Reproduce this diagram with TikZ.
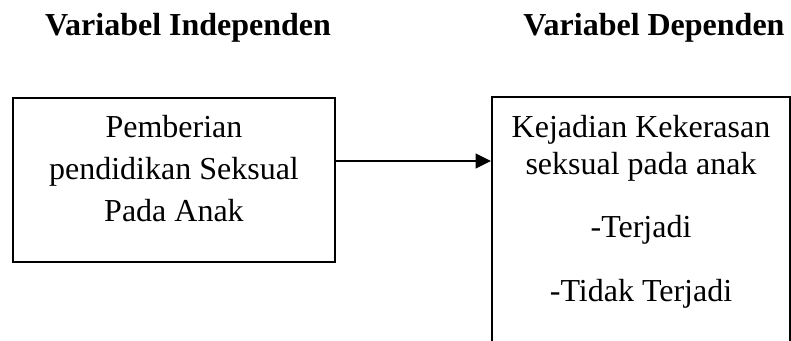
\documentclass[tikz,border=0pt]{standalone}
\usepackage{fontspec}
\setmainfont{Liberation Serif}
\usetikzlibrary{positioning,calc,arrows.meta}

\tikzset{
  box/.style={draw=black, line width=1.5pt, rectangle, inner sep=0pt},
  boxtext/.style={align=center, inner sep=0pt, font=\fontsize{24}{31.5}\selectfont},
  heading/.style={inner sep=0pt, font=\fontsize{24}{28}\selectfont\bfseries},
  link/.style={line width=1.5pt, -{Triangle[length=11.5pt,width=11pt]}}
}

\begin{document}
\begin{tikzpicture}[x=0.75pt,y=-0.75pt]
  \useasboundingbox (0,0) rectangle (791,341);

  % headings
  \node[heading, anchor=base] (head_ind) at (188,36) {Variabel Independen};
  \node[heading, anchor=base] (head_dep) at (654,36) {Variabel Dependen};

  % boxes
  \node[box, minimum width=241.5pt, minimum height=123pt] (ind) at (174,180) {};
  \node[box, minimum width=223.5pt, minimum height=212pt] (dep) at (641,238) {};

  % texts
  \node[boxtext] (ind_text) at (174,169) {Pemberian\\pendidikan Seksual\\Pada Anak};
  \node[boxtext, anchor=north, font=\fontsize{24}{27.75}\selectfont] (dep_text) at (641,115)
    {Kejadian Kekerasan\\seksual pada anak\\[19.5pt]-Terjadi\\[20pt]-Tidak Terjadi};

  % arrow
  \coordinate (ind_out) at ($(ind.east)+(0,-19)$);
  \draw[link] (ind_out) -- (ind_out -| dep.west);

\end{tikzpicture}
\end{document}
